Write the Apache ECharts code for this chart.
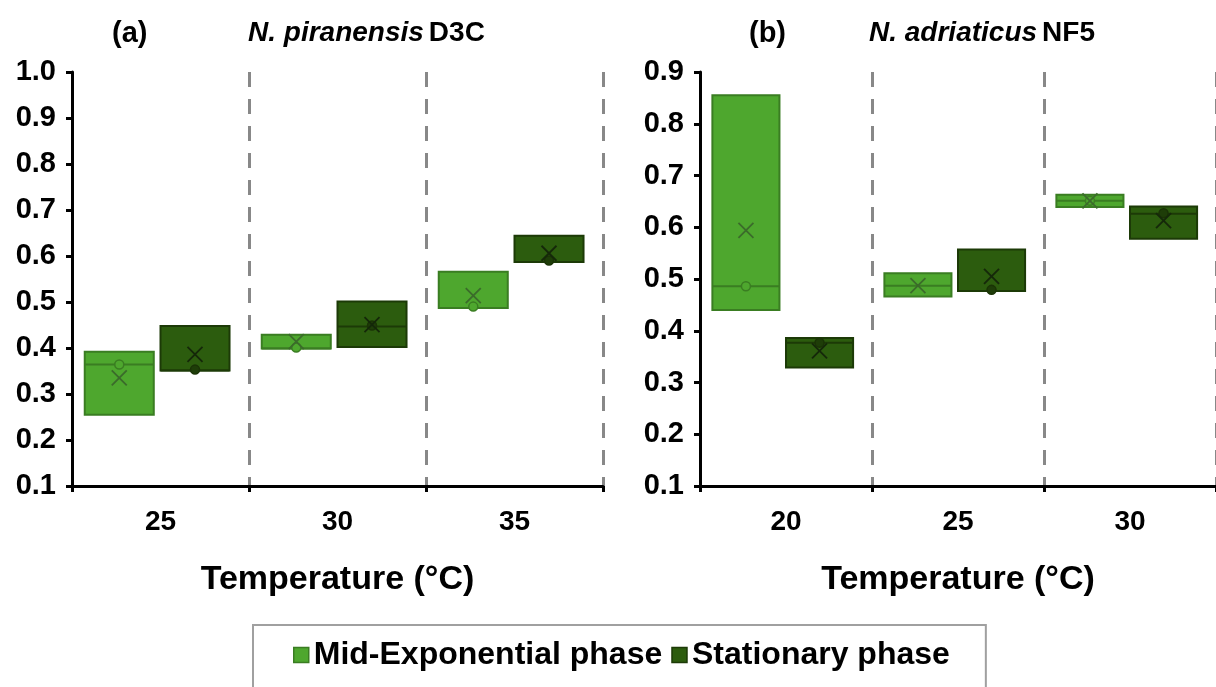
<!DOCTYPE html>
<html>
<head>
<meta charset="utf-8">
<script src="https://cdn.jsdelivr.net/npm/echarts@6/dist/echarts.min.js"></script>
<style>html,body{margin:0;padding:0;background:#fff}#c{width:1216px;height:687px}</style>
</head>
<body>
<div id="c"></div>
<script>
// ---- data: panel (a) N. piranensis D3C ----
const catsA = ['25', '30', '35'];
const aMidLow    = [0.255, 0.399, 0.487];
const aMidMedian = [0.364, 0.399, 0.487];
const aMidHigh   = [0.392, 0.429, 0.566];
const aMidMean   = [0.335, 0.414, 0.514];
const aMidPoint  = [0.364, 0.401, 0.490];
const aStatLow    = [0.351, 0.402, 0.587];
const aStatMedian = [0.351, 0.447, 0.587];
const aStatHigh   = [0.448, 0.501, 0.644];
const aStatMean   = [0.386, 0.451, 0.606];
const aStatPoint  = [0.353, 0.449, 0.590];
// ---- data: panel (b) N. adriaticus NF5 ----
const catsB = ['20', '25', '30'];
const bMidLow    = [0.440, 0.466, 0.639];
const bMidMedian = [0.486, 0.487, 0.651];
const bMidHigh   = [0.855, 0.511, 0.663];
const bMidMean   = [0.594, 0.487, 0.651];
const bMidPoint  = [0.486, null, 0.651];
const bStatLow    = [0.329, 0.477, 0.578];
const bStatMedian = [0.377, 0.477, 0.626];
const bStatHigh   = [0.386, 0.557, 0.640];
const bStatMean   = [0.361, 0.505, 0.613];
const bStatPoint  = [0.377, 0.479, 0.627];
const yTicksA = [0.1, 1.0];
const yTicksB = [0.1, 0.9];
const legendNames = ['Mid-Exponential phase', 'Stationary phase'];

const styles = {
  mid:  {fill: '#4EA72E', border: '#3A7D22', median: '#3A7D22', mean: '#3B6B2B', ptFill: '#4EA72E', ptStroke: '#3A7D22', start: 0.072},
  stat: {fill: '#2C5C0E', border: '#1C3A07', median: '#1C3A07', mean: '#15280A', ptFill: '#1E3D08', ptStroke: '#1A3306', start: 0.50}
};
const boxFrac = 0.39;

function rows(low, med, high, mean, pt) {
  return low.map((v, i) => [i, v, med[i], high[i], mean[i], pt[i] == null ? '-' : pt[i]]);
}

function makeRender(st) {
  return function (params, api) {
    const cat = api.value(0);
    const band = api.size([1, 0])[0];
    const pLow = api.coord([cat, api.value(1)]);
    const yMed = api.coord([cat, api.value(2)])[1];
    const yHigh = api.coord([cat, api.value(3)])[1];
    const yMean = api.coord([cat, api.value(4)])[1];
    const ptv = api.value(5);
    const x0 = pLow[0] - band / 2 + st.start * band;
    const w = boxFrac * band;
    const xc = x0 + w / 2;
    const children = [
      {type: 'rect', shape: {x: x0, y: yHigh, width: w, height: pLow[1] - yHigh},
       style: {fill: st.fill, stroke: st.border, lineWidth: 2}},
      {type: 'line', shape: {x1: x0, y1: yMed, x2: x0 + w, y2: yMed},
       style: {stroke: st.median, lineWidth: 2}}
    ];
    if (!isNaN(ptv)) {
      const yp = api.coord([cat, ptv])[1];
      children.push({type: 'circle', shape: {cx: xc, cy: yp, r: 4.5},
        style: {fill: st.ptFill, stroke: st.ptStroke, lineWidth: 1.5}});
    }
    const s = 7.5;
    children.push({type: 'line', shape: {x1: xc - s, y1: yMean - s, x2: xc + s, y2: yMean + s},
      style: {stroke: st.mean, lineWidth: 1.8}});
    children.push({type: 'line', shape: {x1: xc - s, y1: yMean + s, x2: xc + s, y2: yMean - s},
      style: {stroke: st.mean, lineWidth: 1.8}});
    return {type: 'group', children: children};
  };
}

const FONT = 'Liberation Sans, Arial, sans-serif';
function xAxis(cats, gi) {
  return {
    type: 'category', gridIndex: gi, data: cats, boundaryGap: true,
    axisLine: {lineStyle: {color: '#000', width: 3}},
    axisTick: {show: true, length: 6, lineStyle: {color: '#000', width: 3}},
    axisLabel: {color: '#000', fontSize: 28, fontWeight: 'bold', fontFamily: FONT, margin: 22},
    splitLine: {show: true, lineStyle: {color: '#888', width: 3, type: [15, 12]}},
    name: 'Temperature (°C)', nameLocation: 'middle', nameGap: 77,
    nameTextStyle: {color: '#000', fontSize: 34, fontWeight: 'bold', fontFamily: FONT}
  };
}
function yAxis(t, gi) {
  return {
    type: 'value', gridIndex: gi, min: t[0], max: t[1], interval: 0.1,
    axisLine: {show: true, lineStyle: {color: '#000', width: 3}},
    axisTick: {show: true, length: 6, lineStyle: {color: '#000', width: 3}},
    axisLabel: {color: '#000', fontSize: 29, fontWeight: 'bold', fontFamily: FONT, margin: 16,
      formatter: v => v.toFixed(1)},
    splitLine: {show: false}
  };
}
function series(name, st, data, gi) {
  return {
    type: 'custom', name: name, xAxisIndex: gi, yAxisIndex: gi,
    renderItem: makeRender(st),
    encode: {x: 0, y: [1, 2, 3, 4]},
    itemStyle: {color: st.fill, borderColor: st.border},
    data: data, z: 3
  };
}
const titleRich = {
  i: {fontStyle: 'italic', fontWeight: 'bold', fontSize: 28, color: '#000', fontFamily: FONT},
  b: {fontWeight: 'bold', fontSize: 28, color: '#000', fontFamily: FONT}
};
const option = {
  animation: false,
  backgroundColor: '#fff',
  title: [
    {text: '(a)', left: 107, top: 14, textStyle: {fontSize: 29, fontWeight: 'bold', color: '#000', fontFamily: FONT}},
    {text: '{i|N. piranensis} {b|D3C}', left: 243, top: 14, textStyle: {rich: titleRich}},
    {text: '(b)', left: 744, top: 14, textStyle: {fontSize: 29, fontWeight: 'bold', color: '#000', fontFamily: FONT}},
    {text: '{i|N. adriaticus} {b|NF5}', left: 864, top: 14, textStyle: {rich: titleRich}}
  ],
  legend: {
    left: 253, top: 625,
    padding: [14, 36, 40, 40],
    borderColor: '#A0A0A0', borderWidth: 2,
    itemWidth: 15, itemHeight: 15, itemGap: 9, itemTextGap: 10,
    textStyle: {fontSize: 32, fontWeight: 'bold', color: '#000', fontFamily: FONT},
    data: [
      {name: legendNames[0], icon: 'rect', itemStyle: {color: styles.mid.fill, borderColor: styles.mid.border, borderWidth: 1.5}},
      {name: legendNames[1], icon: 'rect', itemStyle: {color: styles.stat.fill, borderColor: styles.stat.border, borderWidth: 1.5}}
    ]
  },
  grid: [
    {left: 72, top: 72, width: 531, height: 414},
    {left: 700, top: 72, width: 522, height: 414}
  ],
  xAxis: [xAxis(catsA, 0), xAxis(catsB, 1)],
  yAxis: [yAxis(yTicksA, 0), yAxis(yTicksB, 1)],
  series: [
    series(legendNames[0], styles.mid, rows(aMidLow, aMidMedian, aMidHigh, aMidMean, aMidPoint), 0),
    series(legendNames[1], styles.stat, rows(aStatLow, aStatMedian, aStatHigh, aStatMean, aStatPoint), 0),
    series(legendNames[0], styles.mid, rows(bMidLow, bMidMedian, bMidHigh, bMidMean, bMidPoint), 1),
    series(legendNames[1], styles.stat, rows(bStatLow, bStatMedian, bStatHigh, bStatMean, bStatPoint), 1)
  ]
};
const chart = echarts.init(document.getElementById('c'), null, {renderer: 'canvas'});
chart.setOption(option);
</script>
</body>
</html>
